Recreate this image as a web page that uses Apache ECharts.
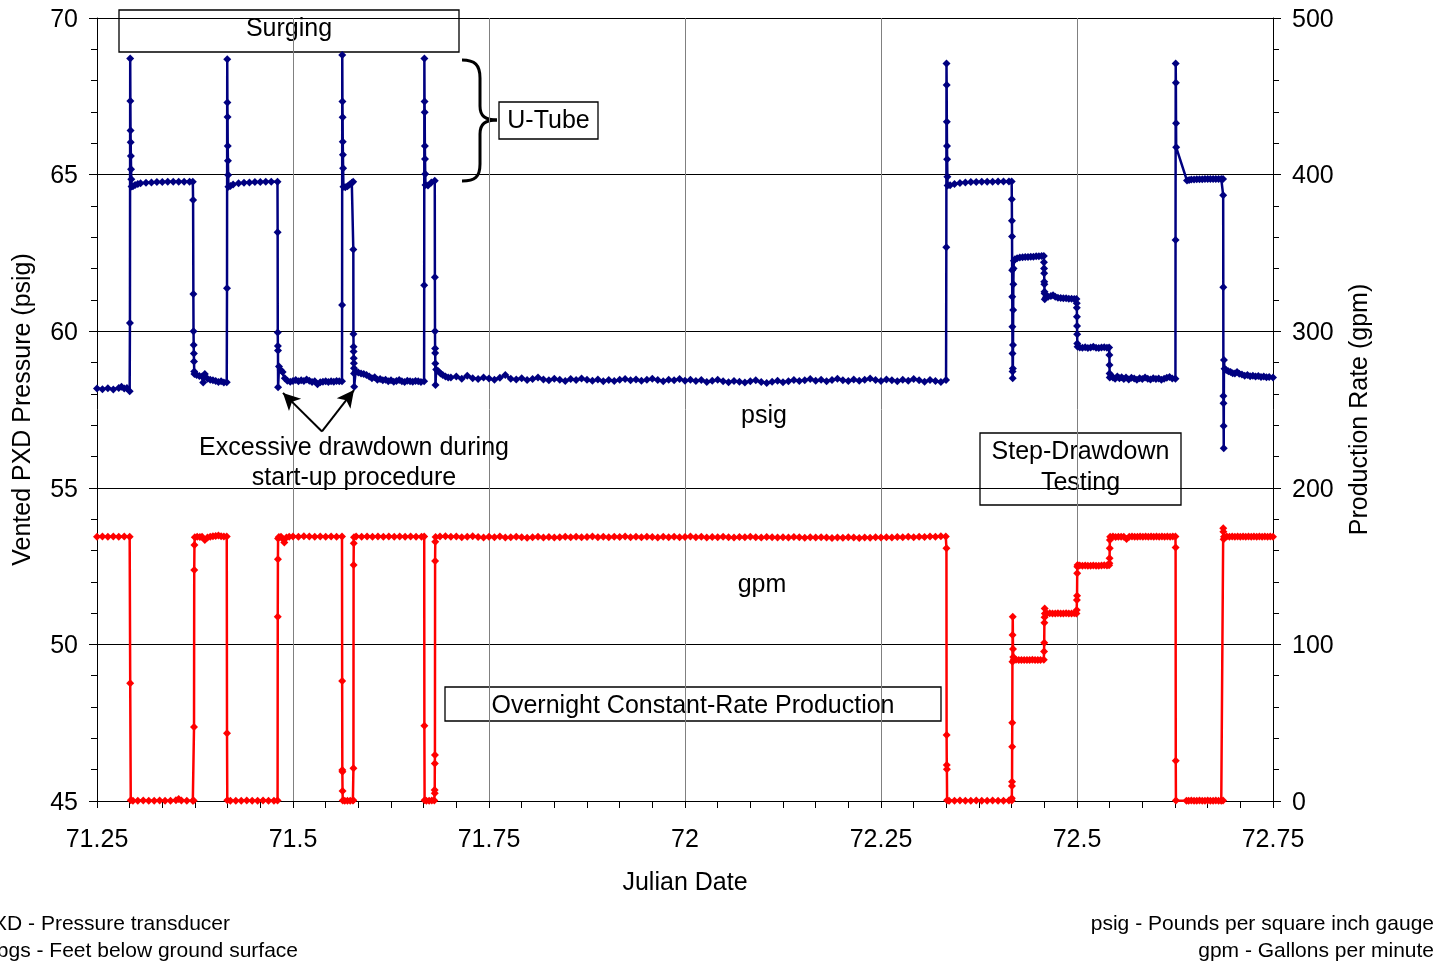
<!DOCTYPE html>
<html>
<head>
<meta charset="utf-8">
<script src="https://cdn.jsdelivr.net/npm/echarts@6/dist/echarts.min.js"></script>
<style>
  html, body { margin: 0; padding: 0; background: #fff; }
  #chart { width: 1442px; height: 962px; }
</style>
</head>
<body>
<div id="chart"></div>
<script>
// Julian date at which the record starts; readings are logged as minutes after it.
const DAY0 = 71.25;

// Vented PXD pressure, [minutes after DAY0, psig]
const psigReadings = [
  [0,58.17],[10,58.15],[20,58.18],[30,58.14],[40,58.19],[45,58.23],[50,58.17],[55,58.19],[60,58.08],
  // pump off: U-tube spike then static level
  [60.5,60.26],[61,68.71],[61.3,67.35],[61.6,66.41],[61.9,66.03],[62.2,65.59],[62.6,65.17],[63,64.85],[63.5,64.62],
  [66,64.63],[70,64.67],[75,64.70],[80,64.72],[90,64.74],[100,64.75],[110,64.76],[120,64.76],[130,64.77],[140,64.77],[150,64.77],[160,64.77],[170,64.77],[176,64.77],
  // pump on
  [176.5,64.19],[177,61.19],[177.3,60.0],[177.6,59.56],[177.9,59.29],[178.2,59.03],[178.6,58.71],[179,58.63],
  [183,58.60],[188,58.57],[193,58.55],[195,58.36],[198,58.63],[203,58.48],[208,58.45],[213,58.43],[218,58.41],[223,58.38],[228,58.40],[233,58.36],[238.3,58.37],
  // pump off
  [238.8,61.37],[239.2,68.68],[239.5,67.3],[239.8,66.84],[240.1,65.91],[240.5,65.44],[240.9,64.99],[241.4,64.61],
  [245,64.64],[250,64.68],[260,64.72],[270,64.74],[280,64.75],[290,64.76],[300,64.76],[310,64.77],[320,64.77],[331.5,64.77],
  // pump on, excessive drawdown
  [331.8,63.16],[332,59.96],[332.2,59.53],[332.4,59.38],[332.6,58.21],[334.3,58.87],[337.4,58.76],[341,58.70],[345,58.50],[349.5,58.42],
  [355,58.39],[360,58.41],[365,58.44],[370,58.40],[375,58.43],[380,58.41],[385,58.46],[390,58.42],[395,58.38],[400,58.40],
  [405,58.31],[410,58.37],[415,58.39],[420,58.40],[425,58.38],[430,58.40],[435,58.39],[440,58.41],[445,58.40],[450,58.40],
  // pump off
  [450.2,60.84],[450.5,68.82],[450.8,67.33],[451.1,66.83],[451.4,66.05],[451.7,65.63],[452.1,65.2],[452.6,64.61],
  [456,64.60],[460,64.63],[464,64.68],[468,64.74],[470.5,64.77],
  // pump on, excessive drawdown
  [470.8,62.61],[471,59.91],[471.2,59.5],[471.4,59.35],[471.6,59.14],[471.8,58.98],[472,58.82],[472.2,58.65],[472.4,58.23],
  [475,58.71],[480,58.68],[485,58.65],[490,58.63],[495,58.60],[500,58.55],[505,58.50],[510,58.53],[515,58.45],[520,58.47],
  [525,58.43],[530,58.45],[535,58.40],[540,58.43],[545,58.39],[550,58.41],[555,58.44],[560,58.40],[565,58.38],[570,58.42],
  [575,58.40],[580,58.39],[585,58.41],[590,58.40],[595,58.38],[600.8,58.40],
  // pump off
  [601,61.47],[601.3,68.71],[601.6,67.33],[601.9,66.99],[602.2,65.91],[602.5,65.5],[602.9,65.02],[603.4,64.67],
  [608,64.65],[614,64.75],[620.4,64.80],
  // pump on: overnight constant-rate production
  [620.6,61.72],[620.8,60.0],[621,59.45],[621.2,59.3],[621.4,58.97],[621.7,58.28],[623,58.78],[627,58.72],[631,58.65],
  [635,58.60],[640,58.55],[645,58.52],
  [650,58.52],[660,58.55],[670,58.48],[680,58.58],[690,58.50],[700,58.47],[710,58.52],[720,58.49],[730,58.45],[740,58.51],
  [750,58.60],[760,58.48],[770,58.46],[780,58.50],[790,58.44],[800,58.47],[810,58.52],[820,58.46],[830,58.43],[840,58.48],
  [850,58.45],[860,58.41],[870,58.47],[880,58.44],[890,58.49],[900,58.45],[910,58.42],[920,58.46],[930,58.40],[940,58.44],
  [950,58.41],[960,58.45],[970,58.47],[980,58.43],[990,58.46],[1000,58.42],[1010,58.45],[1020,58.48],[1030,58.44],[1040,58.40],
  [1050,58.45],[1060,58.43],[1070,58.47],[1080,58.42],[1090,58.45],[1100,58.41],[1110,58.44],[1120,58.38],[1130,58.42],[1140,58.45],
  [1150,58.40],[1160,58.37],[1170,58.41],[1180,58.39],[1190,58.36],[1200,58.40],[1210,58.43],[1220,58.38],[1230,58.35],[1240,58.39],
  [1250,58.42],[1260,58.37],[1270,58.40],[1280,58.44],[1290,58.41],[1300,58.43],[1310,58.47],[1320,58.42],[1330,58.45],[1340,58.40],
  [1350,58.44],[1360,58.48],[1370,58.43],[1380,58.41],[1390,58.46],[1400,58.42],[1410,58.45],[1420,58.49],[1430,58.44],[1440,58.41],
  [1450,58.46],[1460,58.43],[1470,58.40],[1480,58.45],[1490,58.42],[1500,58.47],[1510,58.43],[1520,58.39],[1530,58.44],[1540,58.41],
  [1550,58.38],[1559.5,58.44],
  // pump off before step-drawdown test
  [1560,62.68],[1560.3,68.55],[1560.6,67.86],[1560.9,66.69],[1561.2,65.91],[1561.5,65.49],[1561.9,64.93],[1562.4,64.65],
  [1567,64.66],[1575,64.70],[1585,64.73],[1595,64.75],[1605,64.76],[1615,64.76],[1625,64.77],[1635,64.77],[1645,64.77],
  [1655,64.78],[1665,64.78],[1675,64.78],[1680,64.78],
  // step 1
  [1680.3,64.21],[1680.5,63.53],[1680.7,63.02],[1680.9,61.95],[1681.1,61.10],[1681.3,60.14],[1681.5,59.29],[1681.7,58.71],[1681.9,58.50],
  [1682.2,58.81],[1682.5,59.56],[1682.8,60.68],[1683.1,61.50],[1683.5,62.00],[1684,62.25],[1686,62.30],[1690,62.33],[1695,62.35],
  [1700,62.36],[1705,62.37],[1710,62.37],[1715,62.38],[1720,62.38],[1725,62.39],[1730,62.39],[1735,62.40],[1739,62.40],
  // step 2
  [1739.3,62.2],[1739.5,62.0],[1739.7,61.85],[1739.9,61.58],[1740.1,61.5],[1740.3,61.26],[1740.5,61.2],[1740.8,61.02],
  [1743,61.08],[1747,61.10],[1752,61.12],[1756,61.15],[1760,61.10],[1765,61.07],[1770,61.06],[1775,61.05],[1780,61.05],
  [1785,61.04],[1790,61.04],[1795,61.03],[1799,61.03],
  // step 3
  [1799.5,60.89],[1799.7,60.75],[1799.9,60.46],[1800.1,60.17],[1800.3,59.90],[1800.5,59.61],[1801,59.50],[1805,59.48],
  [1810,59.47],[1815,59.49],[1820,59.46],[1825,59.48],[1830,59.50],[1835,59.47],[1840,59.46],[1845,59.48],[1850,59.49],
  [1855,59.47],[1859,59.48],
  // step 4
  [1859.5,59.24],[1859.7,58.92],[1859.9,58.65],[1860.2,58.52],[1863,58.58],[1866,58.52],[1870,58.48],[1874,58.55],
  [1878,58.50],[1882,58.53],[1886,58.47],[1890,58.52],[1895,58.46],[1900,58.51],[1905,58.49],[1910,58.45],[1915,58.50],
  [1920,58.47],[1925,58.52],[1930,58.48],[1935,58.46],[1940,58.50],[1945,58.47],[1950,58.49],[1955,58.45],[1960,58.48],
  [1965,58.51],[1970,58.54],[1975,58.49],[1980.8,58.48],
  // pump off
  [1981,62.91],[1981.3,68.55],[1981.6,67.93],[1981.9,66.64],[1982.2,65.87],
  [2002,64.81],[2006,64.83],[2010,64.84],[2015,64.84],[2020,64.85],[2025,64.85],[2030,64.85],[2035,64.86],[2040,64.86],
  [2045,64.86],[2050,64.86],[2055,64.86],[2060,64.86],[2065,64.86],[2068.3,64.86],
  // pump on
  [2068.5,64.34],[2068.7,61.40],[2068.9,57.93],[2069.1,57.70],[2069.3,56.97],[2069.5,56.26],[2069.9,59.08],
  [2071,58.80],[2074,58.76],[2078,58.72],[2082,58.70],[2086,58.66],[2090,58.65],[2094,58.70],[2098,58.64],[2103,58.62],
  [2108,58.58],[2113,58.60],[2118,58.56],[2123,58.58],[2128,58.55],[2133,58.57],[2138,58.54],[2143,58.55],[2148,58.53],
  [2153,58.54],[2160,58.52]
];

// Production rate, [minutes after DAY0, gpm]
const gpmReadings = [
  [0,168.8],[10,168.9],[20,168.8],[30,168.9],[40,168.8],[50,168.9],[60,168.8],
  [61,75.2],[62,0.4],[66,0.2],[75,0.2],[85,0.3],[95,0.2],[105,0.2],[115,0.3],[125,0.2],[135,0.2],[145,0.5],[150,1.3],
  [155,0.3],[165,0.2],[176,0.2],[177.5,0.3],
  [178.2,47.3],[178.6,147.5],[179,163.5],[179.6,168.4],[184,168.8],[189,168.6],[193,168.7],[198,166.7],[203,168.3],
  [208,168.8],[213,169.0],[218,169.2],[223,169.6],[228,169.0],[233,168.9],[238.3,168.9],
  [238.8,43.2],[239.3,0.4],[245,0.2],[255,0.2],[265,0.2],[275,0.3],[285,0.2],[295,0.2],[305,0.3],[315,0.2],[325,0.2],[331.7,0.3],
  [332,117.7],[332.3,154.3],[332.6,167.7],[334,168.6],[338,168.8],[341,167.5],[344,165.0],[348,168.3],[353,168.8],
  [360,168.9],[370,168.8],[380,169.0],[390,168.9],[400,168.8],[410,168.9],[420,168.8],[430,168.9],[440,168.8],[450,168.9],
  [450.3,76.6],[450.6,19.8],[450.8,18.7],[451,6.4],[451.4,0.3],[455,0.2],[460,0.2],[465,0.2],[470,0.3],[470.8,0.4],
  [471,20.9],[471.3,150.7],[471.6,164.6],[472,168.5],[476,168.9],[486,168.8],[496,168.9],[506,168.8],[516,168.9],
  [526,168.8],[536,168.9],[546,168.8],[556,168.9],[566,168.8],[576,168.9],[586,168.8],[596,168.8],[601,168.9],
  [601.3,48.1],[601.7,0.4],[605,0.2],[610,0.2],[615,0.3],[619.5,0.3],
  [620.1,7.0],[620.3,4.9],[620.5,24.0],[620.7,29.4],[621,153.3],[621.3,165.6],[621.8,168.6],
  [630,168.9],[640,169.1],[650,168.7],[660,168.9],[670,168.4],[680,168.8],[690,169.0],[700,168.6],[710,168.3],[720,168.7],
  [730,168.5],[740,168.9],[750,168.2],[760,168.5],[770,168.8],[780,168.4],[790,168.1],[800,168.5],[810,168.7],[820,168.3],
  [830,168.6],[840,168.2],[850,168.4],[860,168.7],[870,168.5],[880,168.8],[890,168.4],[900,168.6],[910,168.9],[920,168.5],
  [930,168.7],[940,168.4],[950,168.8],[960,168.6],[970,168.9],[980,168.5],[990,168.7],[1000,168.4],[1010,168.8],[1020,168.6],
  [1030,168.3],[1040,168.7],[1050,168.5],[1060,168.8],[1070,168.4],[1080,168.6],[1090,168.9],[1100,168.5],[1110,168.7],[1120,168.3],
  [1130,168.6],[1140,168.4],[1150,168.7],[1160,168.5],[1170,168.2],[1180,168.6],[1190,168.4],[1200,168.7],[1210,168.5],[1220,168.3],
  [1230,168.6],[1240,168.4],[1250,168.2],[1260,168.5],[1270,168.3],[1280,168.6],[1290,168.4],[1300,168.1],[1310,168.4],[1320,168.2],
  [1330,168.5],[1340,168.3],[1350,168.0],[1360,168.3],[1370,168.1],[1380,168.4],[1390,168.2],[1400,168.0],[1410,168.3],[1420,168.1],
  [1430,168.4],[1440,168.2],[1450,168.5],[1460,168.3],[1470,168.6],[1480,168.4],[1490,168.7],[1500,168.5],[1510,168.8],[1520,168.6],
  [1530,168.9],[1540,168.7],[1550,169.0],[1559,168.9],
  [1560.2,161.4],[1560.5,42.1],[1560.8,23.0],[1561,20.2],[1561.4,0.5],[1565,0.2],[1575,0.2],[1585,0.3],[1595,0.2],[1605,0.2],
  [1615,0.3],[1625,0.2],[1635,0.2],[1645,0.3],[1655,0.2],[1665,0.2],[1675,0.3],[1680.1,0.3],
  [1680.3,1.7],[1680.5,9.6],[1680.7,12.3],[1680.9,34.7],[1681.1,50.0],[1681.4,89.0],[1681.7,106.0],[1682,117.7],[1682.4,97.0],
  [1683,92.0],[1684,90.5],[1688,90.2],[1693,90.0],[1698,90.1],[1703,90.0],[1708,90.1],[1713,90.0],[1718,90.2],[1723,90.0],
  [1728,90.1],[1733,90.0],[1739,90.2],
  [1739.5,95.4],[1739.8,101.0],[1740.1,113.9],[1740.4,117.3],[1740.7,123.0],[1741,119.8],[1745,119.8],[1750,119.9],[1755,119.7],
  [1760,119.8],[1765,119.9],[1770,119.8],[1775,119.7],[1780,119.9],[1785,119.8],[1790,119.8],[1795,119.9],[1799,119.8],
  [1799.5,122.0],[1799.8,128.4],[1800.1,131.0],[1800.4,145.4],[1800.7,149.6],[1801,150.7],[1805,150.4],[1810,150.3],[1815,150.4],
  [1820,150.2],[1825,150.3],[1830,150.4],[1835,150.3],[1840,150.3],[1845,150.4],[1850,150.5],[1855,150.4],[1859,150.6],
  [1859.5,151.8],[1859.8,155.0],[1860.1,161.4],[1860.4,166.7],[1861,168.8],[1866,168.9],[1871,168.6],[1876,168.8],[1881,168.7],
  [1886,168.7],[1891,167.3],[1896,168.8],[1901,168.9],[1906,168.7],[1911,168.8],[1916,168.9],[1921,168.8],[1926,168.9],
  [1931,168.8],[1936,168.9],[1941,168.8],[1946,168.9],[1951,168.8],[1956,168.9],[1961,168.8],[1966,168.9],[1971,168.8],
  [1976,168.9],[1980.8,168.9],
  [1981.1,161.8],[1981.4,25.7],[1981.7,0.3],[2001,0.2],[2005,0.2],[2010,0.3],[2015,0.2],[2020,0.2],[2025,0.3],[2030,0.2],
  [2035,0.2],[2040,0.3],[2045,0.2],[2050,0.2],[2055,0.3],[2060,0.2],[2065,0.2],[2068.3,0.3],
  [2068.6,174.1],[2068.9,171.9],[2069.3,167.1],[2070,168.8],[2075,168.9],[2080,168.8],[2085,168.9],[2090,168.8],[2095,168.9],
  [2100,168.8],[2105,168.9],[2110,168.8],[2115,168.9],[2120,168.8],[2125,168.9],[2130,168.8],[2135,168.9],[2140,168.8],
  [2145,168.9],[2150,168.8],[2155,168.9],[2160,168.8]
];

// Axis ranges and tick steps
const dateRange = [71.25, 72.75];
const dateStep = 0.25;
const psigRange = [45, 70];
const psigStep = 5;
const gpmRange = [0, 500];
const gpmStep = 100;

// Arrow annotation (Julian date, psig): tail, then the two start-up drawdown minima
const arrowTail = [71.537, 56.80];
const arrowHeads = [[71.4872, 58.03], [71.5778, 58.12]];

const FONT = '"Liberation Sans", Arial, sans-serif';
const toDay = m => DAY0 + m / 1440;
const psigSeries = psigReadings.map(([m, v]) => [toDay(m), v]);
const gpmSeries = gpmReadings.map(([m, v]) => [toDay(m), v]);

const chart = echarts.init(document.getElementById('chart'), null, { renderer: 'canvas' });

// Framed note: a white box with one or more centred text lines at the given baselines
function boxLabel(x, y, w, h, lines, lineYs) {
  const children = [{
    type: 'rect', shape: { x: x, y: y, width: w, height: h },
    style: { fill: '#fff', stroke: '#000', lineWidth: 1.3 }
  }];
  const cx = x + w / 2;
  lines.forEach((t, i) => children.push({
    type: 'text', x: cx, y: lineYs[i],
    style: { text: t, font: '25px ' + FONT, fill: '#000', textAlign: 'center', textVerticalAlign: 'middle' }
  }));
  return { type: 'group', z: 100, children: children };
}

function plainText(x, y, text, size, align) {
  return {
    type: 'text', z: 100, x: x, y: y,
    style: { text: text, font: size + 'px ' + FONT, fill: '#000', textAlign: align || 'center', textVerticalAlign: 'middle' }
  };
}

const braceStyle = { stroke: '#000', lineWidth: 3, fill: null };
const brace = {
  type: 'group', z: 100, children: [
    { type: 'bezierCurve', shape: { x1: 462, y1: 60, cpx1: 475, cpy1: 60, cpx2: 480, cpy2: 65, x2: 480, y2: 78 }, style: braceStyle },
    { type: 'line', shape: { x1: 480, y1: 78, x2: 480, y2: 106 }, style: braceStyle },
    { type: 'bezierCurve', shape: { x1: 480, y1: 106, cpx1: 480, cpy1: 116, cpx2: 485, cpy2: 120, x2: 497, y2: 120 }, style: braceStyle },
    { type: 'bezierCurve', shape: { x1: 497, y1: 120, cpx1: 485, cpy1: 120, cpx2: 480, cpy2: 124, x2: 480, y2: 134 }, style: braceStyle },
    { type: 'line', shape: { x1: 480, y1: 134, x2: 480, y2: 164 }, style: braceStyle },
    { type: 'bezierCurve', shape: { x1: 480, y1: 164, cpx1: 480, cpy1: 177, cpx2: 475, cpy2: 181, x2: 462, y2: 181 }, style: braceStyle }
  ]
};

const axisText = { fontSize: 25, color: '#000', fontFamily: FONT };
// Value labels on the vertical axes sit a touch below the tick line
const yLabel = {
  margin: 19,
  formatter: v => '{v|' + v + '}',
  rich: { v: { fontSize: 25, color: '#000', fontFamily: FONT, padding: [4, 0, 0, 0] } }
};

chart.setOption({
  animation: false,
  backgroundColor: '#fff',
  textStyle: { fontFamily: FONT },
  grid: { left: 97, right: 169, top: 18, bottom: 161, containLabel: false },
  xAxis: {
    type: 'value', min: dateRange[0], max: dateRange[1], interval: dateStep,
    name: 'Julian Date', nameLocation: 'middle', nameGap: 70, nameTextStyle: axisText,
    axisLine: { show: true, onZero: false, lineStyle: { color: '#000', width: 1 } },
    axisTick: { show: true, length: 7, lineStyle: { color: '#000' } },
    minorTick: { show: true, splitNumber: 6, length: 7, lineStyle: { color: '#000' } },
    axisLabel: Object.assign({ margin: 27 }, axisText),
    splitLine: { show: true, lineStyle: { color: '#808080', width: 1 } }
  },
  yAxis: [{
    type: 'value', position: 'left', min: psigRange[0], max: psigRange[1], interval: psigStep,
    name: 'Vented PXD Pressure (psig)', nameLocation: 'middle', nameRotate: 90, nameGap: 61, nameTextStyle: axisText,
    axisLine: { show: true, onZero: false, lineStyle: { color: '#000', width: 1 } },
    axisTick: { show: true, length: 8, lineStyle: { color: '#000' } },
    minorTick: { show: true, splitNumber: 5, length: 6, lineStyle: { color: '#000' } },
    axisLabel: yLabel,
    splitLine: { show: true, lineStyle: { color: '#000', width: 1 } }
  }, {
    type: 'value', position: 'right', min: gpmRange[0], max: gpmRange[1], interval: gpmStep,
    name: 'Production Rate (gpm)', nameLocation: 'middle', nameRotate: 90, nameGap: 75, nameTextStyle: axisText,
    axisLine: { show: true, onZero: false, lineStyle: { color: '#000', width: 1 } },
    axisTick: { show: true, length: 8, lineStyle: { color: '#000' } },
    minorTick: { show: true, splitNumber: 5, length: 6, lineStyle: { color: '#000' } },
    axisLabel: yLabel,
    splitLine: { show: false }
  }],
  series: [{
    name: 'psig', type: 'line', xAxisIndex: 0, yAxisIndex: 0, data: psigSeries,
    symbol: 'diamond', symbolSize: 8, showSymbol: true, silent: true,
    lineStyle: { color: '#000080', width: 2.5 }, itemStyle: { color: '#000080' },
    markLine: {
      silent: true, symbol: ['none', 'arrow'], symbolSize: [13, 17], animation: false,
      lineStyle: { color: '#000', width: 2, type: 'solid' }, label: { show: false },
      data: arrowHeads.map(h => [{ coord: arrowTail }, { coord: h }])
    }
  }, {
    name: 'gpm', type: 'line', xAxisIndex: 0, yAxisIndex: 1, data: gpmSeries,
    symbol: 'diamond', symbolSize: 8, showSymbol: true, silent: true,
    lineStyle: { color: '#ff0000', width: 2.5 }, itemStyle: { color: '#ff0000' }
  }],
  graphic: [
    boxLabel(119, 10, 340, 42, ['Surging'], [29]),
    brace,
    boxLabel(499, 102, 99, 37, ['U-Tube'], [121]),
    plainText(354, 448, 'Excessive drawdown during', 25),
    plainText(354, 478, 'start-up procedure', 25),
    plainText(764, 416, 'psig', 25),
    plainText(762, 585, 'gpm', 25),
    boxLabel(980, 433, 201, 72, ['Step-Drawdown', 'Testing'], [452.5, 483.5]),
    boxLabel(445, 687, 496, 34, ['Overnight Constant-Rate Production'], [706]),
    plainText(230, 924, 'PXD - Pressure transducer', 21, 'right'),
    plainText(298, 951, 'fbgs - Feet below ground surface', 21, 'right'),
    plainText(1434, 924, 'psig - Pounds per square inch gauge', 21, 'right'),
    plainText(1434, 951, 'gpm - Gallons per minute', 21, 'right')
  ]
});
</script>
</body>
</html>
